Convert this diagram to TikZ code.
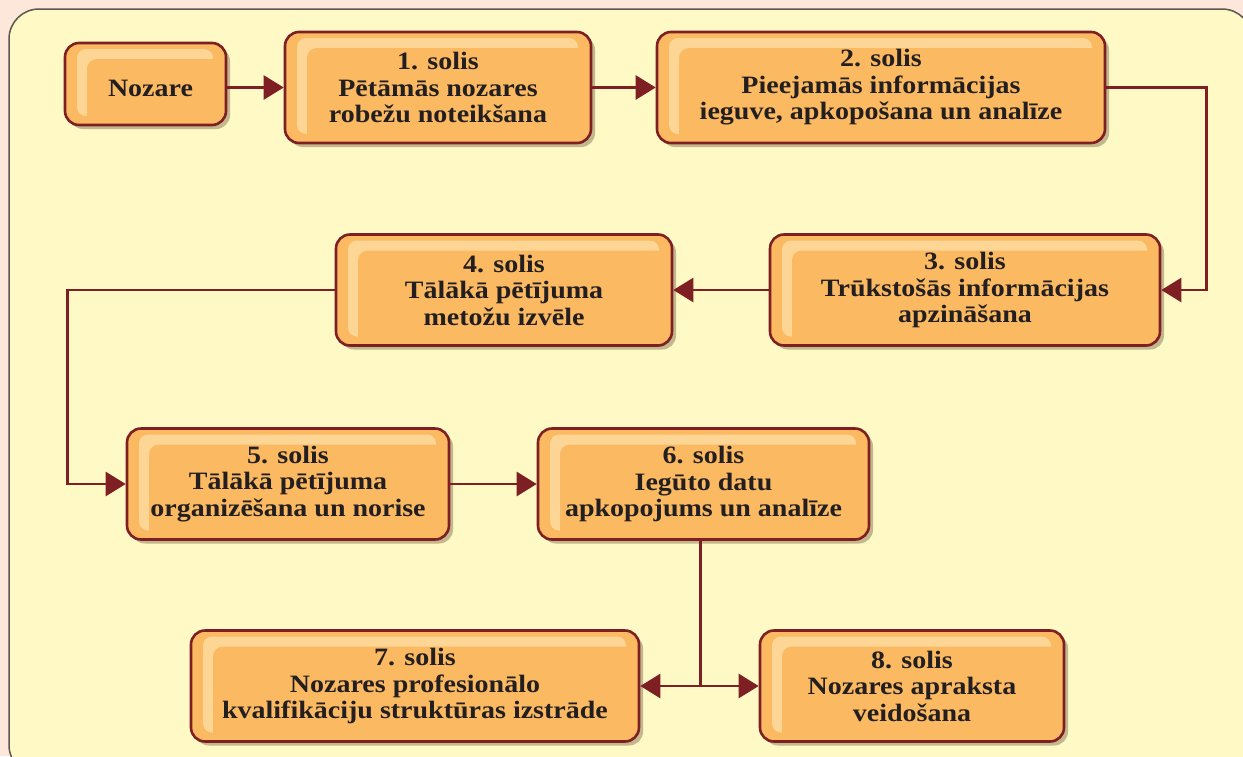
\documentclass[tikz,border=0pt]{standalone}
\usepackage{fontspec}
\setmainfont{Liberation Serif}[FakeStretch=1.12]
\usetikzlibrary{arrows.meta,shadows}
\definecolor{bgout}{HTML}{FDE6DA}
\definecolor{panel}{HTML}{FFF9C6}
\definecolor{panelbd}{HTML}{5C5650}
\definecolor{boxfill}{HTML}{FBB962}
\definecolor{boxlight}{HTML}{FDD595}
\definecolor{boxbd}{HTML}{7E1F24}
\definecolor{shad}{HTML}{C2B88C}
\definecolor{txt}{HTML}{231F20}
\tikzset{
  stepbox/.style={rounded corners=14pt, draw=boxbd, line width=2.6pt, fill=boxfill,
    drop shadow={shadow xshift=4pt, shadow yshift=-4pt, fill=shad, opacity=1},
    align=center, text=txt, inner sep=0pt,
    font=\fontsize{25}{26.5}\selectfont\bfseries,
    path picture={
      \fill[boxlight, rounded corners=9pt]
        ([shift={(12pt,-6pt)}]path picture bounding box.north west) rectangle
        ([shift={(-13pt,9pt)}]path picture bounding box.south east);
      \fill[boxfill, rounded corners=10pt]
        ([shift={(22pt,-16pt)}]path picture bounding box.north west) rectangle
        ([shift={(20pt,-20pt)}]path picture bounding box.south east);
    }},
  conn/.style={draw=boxbd, line width=2.6pt},
  arr/.style={conn, -{Triangle[length=20pt,width=24pt]}},
}
\begin{document}
\begin{tikzpicture}[x=1pt,y=-1pt]
\useasboundingbox (0,0) rectangle (1243,756);
\fill[bgout] (0,0) rectangle (1243,756);
\begin{scope}
\clip (0,0) rectangle (1243,756);
\draw[panelbd, fill=panel, line width=1.5pt, rounded corners=30pt] (9,9) rectangle (1252,775);
\end{scope}

\node[stepbox, minimum width=161, minimum height=82] (noz) at (145.5,84) {\hspace*{10pt}\raisebox{-12pt}[0pt][0pt]{Nozare}};
\node[stepbox, minimum width=306, minimum height=111] (s1) at (438,87.5) {1. solis\\Pētāmās nozares\\robežu noteikšana};
\node[stepbox, minimum width=448, minimum height=111] (s2) at (881,87.5) {2. solis\\Pieejamās informācijas\\ieguve, apkopošana un analīze};
\node[stepbox, minimum width=390, minimum height=111] (s3) at (965,290) {3. solis\\Trūkstošās informācijas\\apzināšana};
\node[stepbox, minimum width=336, minimum height=111] (s4) at (504,290) {4. solis\\Tālākā pētījuma\\metožu izvēle};
\node[stepbox, minimum width=322, minimum height=111] (s5) at (288,484) {5. solis\\Tālākā pētījuma\\organizēšana un norise};
\node[stepbox, minimum width=331, minimum height=111] (s6) at (703.5,484) {6. solis\\Iegūto datu\\apkopojums un analīze};
\node[stepbox, minimum width=448, minimum height=111] (s7) at (415,686) {7. solis\\Nozares profesionālo\\kvalifikāciju struktūras izstrāde};
\node[stepbox, minimum width=304, minimum height=111] (s8) at (912,686) {8. solis\\Nozares apraksta\\veidošana};

\draw[arr] (noz.east |- s1.west) -- (s1.west);
\draw[arr] (s1.east) -- (s2.west);
\draw[arr] (s2.east) -- ++(100,0) |- (s3.east);
\draw[arr] (s3.west) -- (s4.east);
\draw[arr] (s4.west) -- ++(-267,0) |- (s5.west);
\draw[arr] (s5.east) -- (s6.west);
\coordinate (j) at ([xshift=-3pt]s6.south |- s7.east);
\draw[conn] ([xshift=-3pt]s6.south) -- (j);
\draw[arr] (j) -- (s7.east);
\draw[arr] (j) -- (s8.west);
\end{tikzpicture}
\end{document}
